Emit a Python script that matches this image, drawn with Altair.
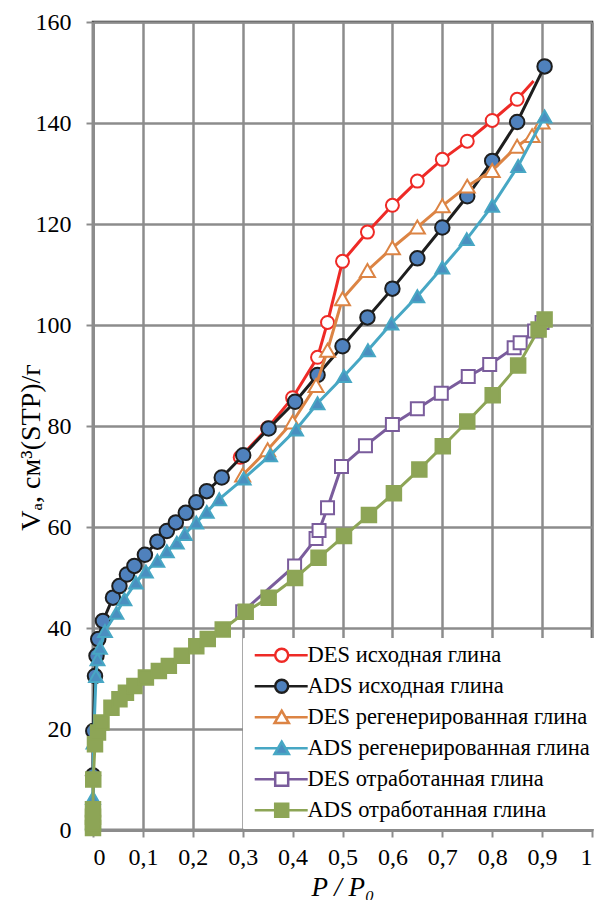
import altair as alt
import pandas as pd

# ---------------- data ----------------
series_names = [
    "DES исходная глина",
    "ADS исходная глина",
    "DES регенерированная глина",
    "ADS регенерированная глина",
    "DES отработанная глина",
    "ADS отработанная глина",
]

des_isx_p = [0.295, 0.35, 0.40, 0.45, 0.47, 0.50, 0.55, 0.60, 0.65, 0.70, 0.75, 0.80, 0.85, 0.883]
des_isx_v = [73.8, 79.6, 85.6, 93.6, 100.5, 112.6, 118.4, 123.7, 128.5, 132.8, 136.4, 140.5, 144.7, 148.3]

ads_isx_p = [0.0, 0.0006, 0.004, 0.007, 0.0105, 0.02, 0.04, 0.053, 0.068, 0.083, 0.104, 0.129, 0.148,
             0.166, 0.186, 0.207, 0.228, 0.258, 0.301, 0.352, 0.405, 0.45, 0.50, 0.55, 0.60, 0.65,
             0.70, 0.75, 0.80, 0.85, 0.905]
ads_isx_v = [10.8, 19.6, 30.5, 34.5, 37.8, 41.4, 46.0, 48.3, 50.6, 52.3, 54.5, 57.1, 59.2,
             60.9, 62.8, 64.9, 67.1, 69.8, 74.2, 79.5, 84.8, 90.1, 95.8, 101.5, 107.2, 113.2,
             119.3, 125.5, 132.5, 140.2, 151.2]

des_reg_p = [0.30, 0.35, 0.40, 0.447, 0.47, 0.50, 0.55, 0.60, 0.65, 0.70, 0.75, 0.80, 0.85, 0.88, 0.90]
des_reg_v = [70.3, 75.3, 80.8, 88.0, 95.0, 105.2, 110.8, 115.3, 119.4, 123.6, 127.5, 130.6, 135.4, 137.5, 140.2]

ads_reg_p = [0.0, 0.0, 0.001, 0.006, 0.009, 0.014, 0.024, 0.047, 0.063, 0.086, 0.106, 0.129, 0.148,
             0.168, 0.184, 0.207, 0.228, 0.253, 0.302, 0.355, 0.407, 0.45, 0.503, 0.551, 0.598,
             0.65, 0.70, 0.749, 0.80, 0.852, 0.905]
ads_reg_v = [1.5, 6.4, 17.3, 30.5, 33.8, 36.1, 39.4, 43.0, 45.7, 49.0, 51.2, 53.3, 55.2,
             56.9, 58.6, 60.9, 63.0, 65.5, 69.6, 74.2, 79.3, 84.5, 89.9, 95.0, 100.3,
             105.7, 111.4, 117.0, 123.6, 131.5, 141.3]

des_otr_p = [0.30, 0.404, 0.447, 0.453, 0.47, 0.498, 0.546, 0.60, 0.65, 0.698, 0.752, 0.795, 0.844, 0.856, 0.885, 0.90]
des_otr_v = [43.2, 52.3, 57.7, 59.3, 63.8, 72.0, 76.1, 80.3, 83.4, 86.5, 89.8, 92.2, 95.5, 96.5, 98.8, 100.5]

ads_otr_p = [0.0, 0.0, 0.0, 0.0, 0.0005, 0.004, 0.01, 0.017, 0.037, 0.053, 0.066, 0.083, 0.106,
             0.132, 0.152, 0.178, 0.207, 0.23, 0.26, 0.306, 0.352, 0.405, 0.452, 0.503, 0.553,
             0.603, 0.654, 0.701, 0.75, 0.801, 0.852, 0.893, 0.905]
ads_otr_v = [0.4, 1.4, 2.6, 4.1, 10.0, 17.0, 19.3, 21.3, 24.2, 25.9, 27.2, 28.5, 30.2,
             31.5, 32.5, 34.5, 36.4, 37.8, 39.7, 43.2, 46.0, 49.9, 53.9, 58.2, 62.4,
             66.7, 71.4, 76.0, 80.9, 86.1, 92.0, 99.1, 101.1]

x_ticks = [0, 0.1, 0.2, 0.3, 0.4, 0.5, 0.6, 0.7, 0.8, 0.9, 1.0]
y_ticks = [0, 20, 40, 60, 80, 100, 120, 140, 160]

# ---------------- styles ----------------
line_colors = ["#EE2A26", "#1E1E1E", "#DC8444", "#47A7C4", "#7A5C9C", "#8DA556"]
fill_colors = ["white", "#4F81BD", "white", "#4A8FC0", "white", "#8DA556"]
mk_stroke = ["#EE2A26", "#1E1E1E", "#DC8444", "#47A7C4", "#7A5C9C", "#8DA556"]
shapes = ["circle", "circle", "triangle-up", "triangle-up", "square", "square"]
sizes = [169, 210, 225, 190, 169, 210]

# legend symbols: a line segment with the marker in its middle
leg_circle = "M-0.85,0L2.3,0M4.3,0L7.3,0M4.3,0A1,1,0,1,1,2.3,0A1,1,0,1,1,4.3,0Z"
leg_tri = "M-0.85,0L2.72,0M3.88,0L7.3,0M3.3,-1L4.4,0.9L2.2,0.9Z"
leg_square = "M-0.85,0L2.3,0M4.3,0L7.3,0M2.3,-1L4.3,-1L4.3,1L2.3,1Z"
leg_shapes = [leg_circle, leg_circle, leg_tri, leg_tri, leg_square, leg_square]

all_p = [des_isx_p, ads_isx_p, des_reg_p, ads_reg_p, des_otr_p, ads_otr_p]
all_v = [des_isx_v, ads_isx_v, des_reg_v, ads_reg_v, des_otr_v, ads_otr_v]

rows = []
for name, ps, vs in zip(series_names, all_p, all_v):
    for i, (p, v) in enumerate(zip(ps, vs)):
        rows.append({"series": name, "P": p, "V": v, "idx": i})
df = pd.DataFrame(rows)

FONT = "Liberation Serif"

x_enc = alt.X("P:Q", scale=alt.Scale(domain=[0, 1], nice=False),
              axis=alt.Axis(values=x_ticks,
                            labelExpr="replace(format(datum.value, '.1~f'), '.', ',')",
                            title="P / P₀",
                            labelFont=FONT, titleFont=FONT, labelFontSize=24, titleFontSize=27,
                            titleFontStyle="italic", labelPadding=8,
                            titleBaseline="middle", titleY=57))
y_enc = alt.Y("V:Q", scale=alt.Scale(domain=[0, 160], nice=False),
              axis=alt.Axis(values=y_ticks, title="Vₐ, см³(STP)/г",
                            labelFont=FONT, titleFont=FONT, labelFontSize=24, titleFontSize=28,
                            labelPadding=15, titleBaseline="middle", titleX=-62, titleY=425,
                            titleAngle=-90))

base = alt.Chart(df)
layers = []
for k, name in enumerate(series_names):
    sub = base.transform_filter(alt.datum.series == name)
    line = sub.mark_line(stroke=line_colors[k], strokeWidth=3, clip=False).encode(
        x=x_enc, y=y_enc, order="idx:Q")
    pts = sub.mark_point(shape=shapes[k], size=sizes[k], filled=True, fill=fill_colors[k],
                         stroke=mk_stroke[k], strokeWidth=2, opacity=1, clip=False).encode(
        x=x_enc, y=y_enc)
    if k == 0:
        pts = pts.transform_filter(alt.datum.P < 0.87)
    layers += [line, pts]

legend_layer = base.transform_filter("false").mark_point(opacity=1, strokeWidth=2.5, size=169).encode(
    x=x_enc, y=y_enc,
    stroke=alt.Stroke("series:N", scale=alt.Scale(domain=series_names, range=line_colors),
                      legend=alt.Legend(title=None)),
    fill=alt.Fill("series:N", scale=alt.Scale(domain=series_names, range=fill_colors),
                  legend=alt.Legend(title=None)),
    shape=alt.Shape("series:N", scale=alt.Scale(domain=series_names, range=leg_shapes),
                    legend=alt.Legend(title=None)),
)
layers.append(legend_layer)

chart = alt.layer(*layers).properties(
    width=499, height=808,
    autosize=alt.AutoSizeParams(type="none"),
    padding={"left": 85, "top": 14, "right": 6, "bottom": 70},
    background="white",
).configure(
    font=FONT
).configure_view(
    stroke="#1a1a1a", strokeWidth=2.5
).configure_axis(
    labelFont=FONT, labelFontSize=24, labelColor="black",
    titleFont=FONT, titleFontSize=27, titleFontWeight="normal", titleColor="black",
    gridColor="#8C8C8C", gridWidth=2.5, gridOpacity=1,
    domainColor="#8C8C8C", domainWidth=3,
    tickColor="#8C8C8C", tickWidth=2, tickSize=7,
).configure_legend(
    orient="none", legendX=150, legendY=616,
    labelFont=FONT, labelFontSize=22.5, labelColor="black", labelLimit=0,
    symbolSize=169, symbolStrokeWidth=2.5, labelOffset=36,
    rowPadding=7, padding=6, fillColor="white", strokeColor="white",
)

chart.save("out.html", embed_options={"renderer": "svg", "actions": False})
